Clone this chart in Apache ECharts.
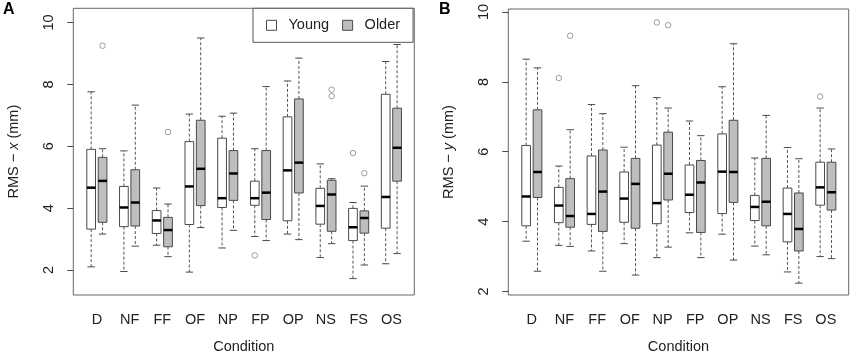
<!DOCTYPE html>
<html>
<head>
<meta charset="utf-8">
<script src="https://cdn.jsdelivr.net/npm/echarts@6/dist/echarts.min.js"></script>
<style>
  html, body { margin: 0; padding: 0; background: #fff; }
  #chart { width: 856px; height: 359px; }
</style>
</head>
<body>
<div id="chart"></div>
<script>
// conditions on the x axis
const conditions = ["D", "NF", "FF", "OF", "NP", "FP", "OP", "NS", "FS", "OS"];
const yTicks = [2, 4, 6, 8, 10];

// box stats per condition: [low whisker, Q1, median, Q3, high whisker]
const youngX = [
  [2.10, 3.32, 4.66, 5.90, 7.76],
  [1.95, 3.40, 4.02, 4.70, 5.85],
  [2.80, 3.18, 3.60, 3.92, 4.65],
  [1.93, 3.47, 4.70, 6.15, 7.04],
  [2.71, 4.02, 4.32, 6.26, 6.97],
  [3.08, 4.09, 4.32, 4.87, 5.92],
  [3.16, 3.59, 5.22, 6.95, 8.11],
  [2.40, 3.48, 4.07, 4.64, 5.43],
  [1.72, 2.95, 3.38, 3.99, 4.18],
  [2.20, 3.35, 4.36, 7.68, 8.74],
];
const olderX = [
  [3.16, 3.54, 4.88, 5.64, 5.92],
  [2.77, 3.42, 4.18, 5.24, 7.33],
  [2.43, 2.75, 3.29, 3.70, 4.13],
  [3.37, 4.08, 5.27, 6.84, 9.50],
  [3.28, 4.25, 5.12, 5.86, 7.07],
  [2.95, 3.63, 4.50, 5.86, 7.93],
  [2.98, 4.49, 5.47, 7.53, 8.85],
  [2.85, 3.25, 4.44, 4.90, 4.95],
  [2.16, 3.19, 3.68, 3.91, 4.71],
  [2.53, 4.87, 5.95, 7.23, 9.29],
];
const youngY = [
  [3.44, 3.88, 4.72, 6.18, 8.65],
  [3.32, 3.97, 4.46, 4.98, 5.59],
  [3.16, 3.92, 4.22, 5.88, 7.35],
  [3.37, 3.98, 4.66, 5.42, 6.13],
  [2.97, 3.94, 4.53, 6.19, 7.55],
  [3.68, 4.26, 4.77, 5.62, 6.88],
  [3.64, 4.23, 5.43, 6.51, 7.86],
  [3.30, 4.03, 4.42, 4.75, 5.82],
  [2.56, 3.42, 4.22, 4.96, 6.12],
  [3.00, 4.47, 4.98, 5.70, 7.25],
];
const olderY = [
  [2.58, 4.69, 5.42, 7.20, 8.40],
  [3.29, 3.84, 4.16, 5.23, 6.63],
  [2.58, 3.72, 4.86, 6.05, 7.09],
  [2.47, 3.81, 5.08, 5.81, 7.89],
  [3.27, 4.62, 5.37, 6.56, 7.25],
  [2.97, 3.69, 5.12, 5.75, 6.46],
  [2.90, 4.55, 5.42, 6.90, 9.09],
  [3.05, 3.88, 4.57, 5.81, 7.04],
  [2.24, 3.16, 3.79, 4.82, 5.80],
  [2.94, 4.33, 4.84, 5.70, 6.08],
];

// outliers: [condition index, value]
const youngOutX = [[5, 2.47], [8, 5.78]];
const olderOutX = [[0, 9.25], [2, 6.46], [7, 7.83], [7, 7.62], [8, 5.13]];
const youngOutY = [[1, 8.11], [4, 9.70], [9, 7.58]];
const olderOutY = [[1, 9.32], [4, 9.62]];

const FONT = "Liberation Sans, Arial, Helvetica, sans-serif";
const LINE = "#4a4a4a";
const GRAY = "#bebebe";
const BOX_W = 0.266;   // box width in category units
const OFF = 0.174;     // half distance between the two boxes

const chart = echarts.init(document.getElementById("chart"), null, { renderer: "canvas" });

function boxRenderer(offset, fill) {
  return function (params, api) {
    const x = api.value(0) + offset;
    const cx = api.coord([x, 0])[0];
    const unit = api.size([1, 0])[0];
    const half = (unit * BOX_W) / 2;
    const cap = half * 0.85;
    const yLow = api.coord([x, api.value(1)])[1];
    const yQ1 = api.coord([x, api.value(2)])[1];
    const yMed = api.coord([x, api.value(3)])[1];
    const yQ3 = api.coord([x, api.value(4)])[1];
    const yHigh = api.coord([x, api.value(5)])[1];
    const dash = { stroke: "#555", lineWidth: 1, lineDash: [3, 2] };
    const solid = { stroke: LINE, lineWidth: 1 };
    return {
      type: "group",
      children: [
        { type: "line", shape: { x1: cx, y1: yQ3, x2: cx, y2: yHigh }, style: dash },
        { type: "line", shape: { x1: cx, y1: yQ1, x2: cx, y2: yLow }, style: dash },
        { type: "line", shape: { x1: cx - cap, y1: yHigh, x2: cx + cap, y2: yHigh }, style: solid },
        { type: "line", shape: { x1: cx - cap, y1: yLow, x2: cx + cap, y2: yLow }, style: solid },
        {
          type: "rect",
          shape: { x: cx - half, y: yQ3, width: half * 2, height: yQ1 - yQ3 },
          style: { fill: fill, stroke: LINE, lineWidth: 1 },
        },
        {
          type: "line",
          shape: { x1: cx - half, y1: yMed, x2: cx + half, y2: yMed },
          style: { stroke: "#000", lineWidth: 2.5 },
        },
      ],
    };
  };
}

const toBoxData = (stats) => stats.map((s, i) => [i + 1].concat(s));
const toOutData = (outs, offset) => outs.map((o) => [o[0] + 1 + offset, o[1]]);

function panelSeries(gridIdx, young, older, youngOut, olderOut) {
  const common = { xAxisIndex: gridIdx, yAxisIndex: gridIdx, silent: true };
  const outStyle = { color: "#fff", borderColor: "#666", borderWidth: 0.8 };
  return [
    Object.assign({
      name: "Young", type: "custom",
      renderItem: boxRenderer(-OFF, "#fff"),
      encode: { x: 0, y: [1, 2, 3, 4, 5] },
      itemStyle: { color: "#fff", borderColor: LINE },
      data: toBoxData(young),
    }, common),
    Object.assign({
      name: "Older", type: "custom",
      renderItem: boxRenderer(OFF, GRAY),
      encode: { x: 0, y: [1, 2, 3, 4, 5] },
      itemStyle: { color: GRAY, borderColor: LINE },
      data: toBoxData(older),
    }, common),
    Object.assign({
      type: "scatter", symbol: "circle", symbolSize: 5.5,
      itemStyle: outStyle,
      data: toOutData(youngOut, -OFF),
    }, common),
    Object.assign({
      type: "scatter", symbol: "circle", symbolSize: 5.5,
      itemStyle: outStyle,
      data: toOutData(olderOut, OFF),
    }, common),
  ];
}

function xAxisFor(gridIdx) {
  return {
    gridIndex: gridIdx,
    type: "value",
    min: 0.28,
    max: 10.7,
    axisLine: { show: false },
    axisTick: { show: false },
    splitLine: { show: false },
    axisLabel: {
      customValues: [1, 2, 3, 4, 5, 6, 7, 8, 9, 10],
      formatter: (v) => conditions[Math.round(v) - 1],
      fontSize: 14.5,
      fontFamily: FONT,
      color: "#222",
      margin: 17,
    },
    name: "Condition",
    nameLocation: "middle",
    nameGap: 44,
    nameTextStyle: { fontSize: 14.5, fontFamily: FONT, color: "#222" },
  };
}

function yAxisFor(gridIdx, min, max, letter) {
  return {
    gridIndex: gridIdx,
    type: "value",
    min: min,
    max: max,
    axisLine: { show: false },
    splitLine: { show: false },
    axisTick: {
      show: true, inside: false, length: 6,
      customValues: yTicks,
      lineStyle: { color: LINE },
    },
    axisLabel: {
      customValues: yTicks,
      rotate: 90,
      margin: 17,
      fontSize: 14.5,
      fontFamily: FONT,
      color: "#222",
    },
    name: "{a|RMS − }{b|" + letter + "}{a| (mm)}",
    nameLocation: "middle",
    nameRotate: 90,
    nameGap: 52,
    nameTextStyle: {
      rich: {
        a: { fontSize: 14.5, fontFamily: FONT, color: "#222" },
        b: { fontSize: 14.5, fontFamily: FONT, color: "#222", fontStyle: "italic" },
      },
    },
  };
}

const option = {
  animation: false,
  backgroundColor: "#fff",
  title: [
    { text: "A", left: 3, top: 2, padding: 0, textStyle: { fontSize: 16, fontWeight: "bold", fontFamily: FONT, color: "#000" } },
    { text: "B", left: 439, top: 2, padding: 0, textStyle: { fontSize: 16, fontWeight: "bold", fontFamily: FONT, color: "#000" } },
  ],
  legend: {
    left: 253,
    top: 8.3,
    orient: "horizontal",
    backgroundColor: "#fff",
    borderColor: "#555",
    borderWidth: 1,
    borderRadius: 0,
    padding: [9.5, 13, 9.5, 13],
    itemWidth: 10,
    itemHeight: 10,
    itemGap: 13,
    selectedMode: false,
    textStyle: { fontSize: 14.5, fontFamily: FONT, color: "#222", padding: [0, 0, 0, 7] },
    data: [
      { name: "Young", icon: "rect", itemStyle: { color: "#fff", borderColor: LINE, borderWidth: 1 } },
      { name: "Older", icon: "rect", itemStyle: { color: GRAY, borderColor: LINE, borderWidth: 1 } },
    ],
  },
  grid: [
    { left: 73.3, top: 8.3, width: 341, height: 289.4, show: true, borderColor: "#666", borderWidth: 1, backgroundColor: "transparent" },
    { left: 508.3, top: 9, width: 340.4, height: 289.3, show: true, borderColor: "#666", borderWidth: 1, backgroundColor: "transparent" },
  ],
  xAxis: [xAxisFor(0), xAxisFor(1)],
  yAxis: [yAxisFor(0, 1.19, 10.46, "x"), yAxisFor(1, 1.9, 10.085, "y")],
  series: panelSeries(0, youngX, olderX, youngOutX, olderOutX)
    .concat(panelSeries(1, youngY, olderY, youngOutY, olderOutY)),
};

chart.setOption(option);
</script>
</body>
</html>
